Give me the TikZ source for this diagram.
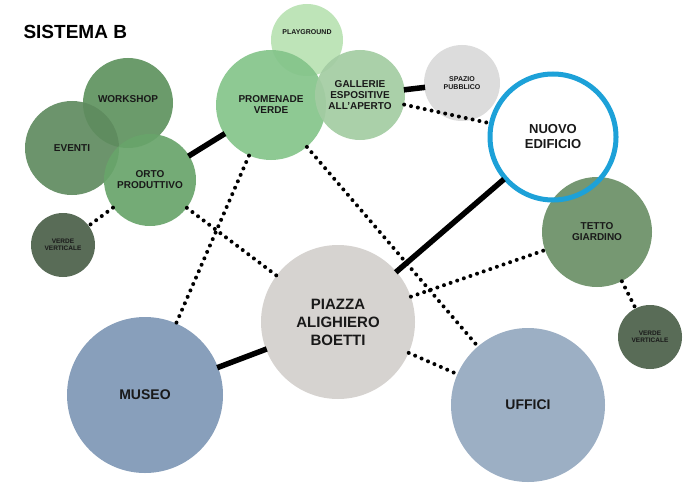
\documentclass[tikz,border=0pt]{standalone}
\usepackage{fontspec}
\setmainfont{Liberation Sans}
\begin{document}
\begin{tikzpicture}[x=1pt,y=-1pt,
  bub/.style={circle,inner sep=0pt,fill opacity=0.92,text opacity=1,align=center,font=\bfseries\fontsize{10}{11}\selectfont,text=black!90},
  thick line/.style={line width=5.5pt,black,shorten <=-1pt,shorten >=-1pt},
  dotline/.style={line width=4pt,dash pattern=on 0pt off 7pt,line cap=round,black}]
\useasboundingbox (0,0) rectangle (700,500);
\definecolor{gA}{HTML}{5E925E}\definecolor{gB}{HTML}{5F8B5F}\definecolor{gC}{HTML}{68A46A}
\definecolor{gD}{HTML}{4B5F49}\definecolor{gE}{HTML}{B8E2B2}\definecolor{gF}{HTML}{84C48A}
\definecolor{gG}{HTML}{A3CCA2}\definecolor{gH}{HTML}{6A8F66}\definecolor{gr}{HTML}{D9D9D9}
\definecolor{pz}{HTML}{D3CFCC}\definecolor{mu}{HTML}{7E97B5}\definecolor{uf}{HTML}{94A8BF}
\definecolor{bl}{HTML}{1DA1D8}
% bubbles
\node[bub,fill=gE,minimum size=72pt,font=\bfseries\fontsize{7}{8}\selectfont] (pl) at (307,40) {\raisebox{16pt}{PLAYGROUND}};
\node[bub,fill=gA,minimum size=90pt] (w) at (128,103) {\raisebox{8pt}{WORKSHOP}};
\node[bub,fill=gB,minimum size=94pt] (e) at (72,148) {EVENTI};
\node[bub,fill=gC,minimum size=92pt] (o) at (150,180) {ORTO\\PRODUTTIVO};
\node[bub,fill=gD,minimum size=64pt,font=\bfseries\fontsize{6.5}{7.5}\selectfont] (v1) at (63,245) {VERDE\\VERTICALE};
\node[bub,fill=gF,minimum size=110pt] (pr) at (271,105) {PROMENADE\\VERDE};
\node[bub,fill=gG,minimum size=90pt] (g) at (360,95) {GALLERIE\\ESPOSITIVE\\ALL'APERTO};
\node[bub,fill=gr,minimum size=76pt,font=\bfseries\fontsize{7}{8}\selectfont] (s) at (462,83) {SPAZIO\\PUBBLICO};
\node[bub,fill=white,fill opacity=1,minimum size=131pt,font=\bfseries\fontsize{13}{15}\selectfont] (n) at (553,137) {NUOVO\\EDIFICIO};
\node[bub,fill=gH,minimum size=110pt] (t) at (597,232) {TETTO\\GIARDINO};
\draw[bl,line width=5pt] (n.center) circle (63pt);
\node[bub,fill=gD,minimum size=64pt,font=\bfseries\fontsize{6.5}{7.5}\selectfont] (v2) at (650,337) {VERDE\\VERTICALE};
\node[bub,fill=pz,minimum size=154pt,font=\bfseries\fontsize{15}{18}\selectfont] (pi) at (338,322) {PIAZZA\\ALIGHIERO\\BOETTI};
\node[bub,fill=mu,minimum size=156pt,font=\bfseries\fontsize{14}{16}\selectfont] (m) at (145,395) {MUSEO};
\node[bub,fill=uf,minimum size=154pt,font=\bfseries\fontsize{14}{16}\selectfont] (u) at (528,405) {UFFICI};
% connectors
\draw[thick line] (o) -- (pr);
\draw[thick line] (g) -- (s);
\draw[thick line] (pi) -- (n);
\draw[thick line] (m) -- (pi);
\draw[dotline] (o) -- (v1);
\draw[dotline] (pr) -- (m);
\draw[dotline] (pr) -- (u);
\draw[dotline] (g) -- (n);
\draw[dotline] (o) -- (pi);
\draw[dotline] (pi) -- (t);
\draw[dotline] (pi) -- (u);
\draw[dotline] (t) -- (v2);
\node[anchor=west,font=\bfseries\fontsize{19}{22}\selectfont] (title) at (20,32) {SISTEMA B};
\end{tikzpicture}
\end{document}
